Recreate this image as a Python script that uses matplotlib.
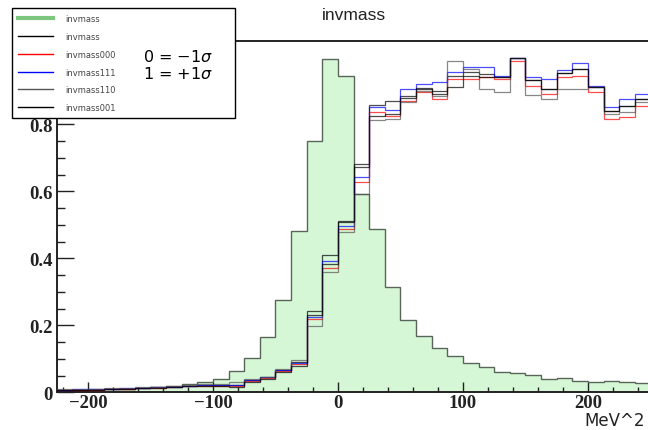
import numpy as np
import matplotlib
matplotlib.use("Agg")
import matplotlib.pyplot as plt
from matplotlib.lines import Line2D
from matplotlib.ticker import MultipleLocator

# binning : 38 bins de 12.5 MeV^2 entre -225 et 250
x_lo, bin_w, n_bins = -225.0, 12.5, 38
edges = x_lo + bin_w * np.arange(n_bins + 1)

# histo de référence (vert)
h_ref = [0.005, 0.006, 0.007, 0.009, 0.011, 0.013, 0.016, 0.020, 0.024, 0.030,
         0.040, 0.064, 0.101, 0.164, 0.276, 0.481, 0.751, 0.995, 0.945, 0.592,
         0.487, 0.313, 0.217, 0.169, 0.132, 0.107, 0.087, 0.075, 0.062, 0.057,
         0.052, 0.040, 0.044, 0.035, 0.030, 0.033, 0.030, 0.028]

# variations
h_nom = [0.008, 0.008, 0.009, 0.010, 0.011, 0.013, 0.015, 0.017, 0.019, 0.021,
         0.022, 0.022, 0.036, 0.045, 0.066, 0.090, 0.243, 0.410, 0.512, 0.681,
         0.858, 0.870, 0.886, 0.905, 0.900, 0.945, 0.955, 0.951, 0.940, 0.997,
         0.931, 0.906, 0.954, 0.966, 0.911, 0.841, 0.856, 0.876]
h_000 = [0.007, 0.008, 0.008, 0.010, 0.011, 0.012, 0.014, 0.016, 0.018, 0.020,
         0.020, 0.020, 0.034, 0.043, 0.064, 0.085, 0.219, 0.370, 0.487, 0.627,
         0.836, 0.824, 0.870, 0.896, 0.875, 0.935, 0.935, 0.941, 0.935, 0.990,
         0.916, 0.891, 0.941, 0.945, 0.896, 0.816, 0.821, 0.856]
h_111 = [0.008, 0.009, 0.009, 0.011, 0.012, 0.013, 0.015, 0.017, 0.019, 0.022,
         0.021, 0.022, 0.037, 0.046, 0.068, 0.088, 0.226, 0.393, 0.497, 0.642,
         0.851, 0.844, 0.906, 0.920, 0.925, 0.955, 0.970, 0.970, 0.945, 0.997,
         0.941, 0.935, 0.963, 0.984, 0.916, 0.851, 0.876, 0.891]
h_110 = [0.009, 0.010, 0.010, 0.012, 0.013, 0.015, 0.017, 0.019, 0.022, 0.024,
         0.025, 0.030, 0.040, 0.047, 0.070, 0.097, 0.199, 0.358, 0.479, 0.592,
         0.813, 0.816, 0.867, 0.900, 0.885, 0.988, 0.965, 0.906, 0.898, 0.997,
         0.888, 0.876, 0.906, 0.906, 0.911, 0.831, 0.836, 0.866]
h_001 = [0.007, 0.007, 0.008, 0.009, 0.010, 0.012, 0.014, 0.016, 0.018, 0.020,
         0.018, 0.016, 0.030, 0.040, 0.062, 0.079, 0.230, 0.383, 0.507, 0.672,
         0.826, 0.831, 0.880, 0.910, 0.890, 0.913, 0.945, 0.941, 0.940, 0.997,
         0.931, 0.906, 0.954, 0.966, 0.911, 0.841, 0.856, 0.876]

variations = [(h_nom, "black"), (h_000, "red"), (h_111, "blue"),
              (h_110, "#555555"), (h_001, "black")]
leg_labels = ["invmass", "invmass", "invmass000", "invmass111", "invmass110", "invmass001"]

fig = plt.figure(figsize=(6.48, 4.31), dpi=100)
ax = fig.add_axes([56.7/648, 37.7/431, 593.75/648, 351/431])

ax.stairs(h_ref, edges, fill=True, color="#d6f7d6", zorder=1)
ax.stairs(h_ref, edges, color="#58665a", lw=1.0, zorder=2)
for vals, col in variations:
    ax.stairs(vals, edges, color=col, lw=0.9, alpha=0.7, zorder=3)

ax.set_xlim(edges[0], edges[-1])
ax.set_ylim(0, 1.048)

serif = dict(fontfamily="Liberation Serif", fontweight="bold", fontsize=13.5)
ax.set_xticks([-200, -100, 0, 100, 200],
              ["\u2212200", "\u2212100", "0", "100", "200"], **serif)
ax.set_yticks([0, 0.2, 0.4, 0.6, 0.8, 1.0],
              ["0", "0.2", "0.4", "0.6", "0.8", "1"], **serif)
ax.xaxis.set_minor_locator(MultipleLocator(20))
ax.yaxis.set_minor_locator(MultipleLocator(0.05))
ax.tick_params(which="both", direction="in", top=False, right=False,
               colors="#222222", width=1.0)
ax.tick_params(axis="x", which="major", length=7, pad=1.5)
ax.tick_params(axis="x", which="minor", length=3.5)
ax.tick_params(axis="y", which="major", length=12, pad=3)
ax.tick_params(axis="y", which="minor", length=6)
for s in ax.spines.values():
    s.set_linewidth(1.4)
    s.set_color("#222222")

# légende
handles = [Line2D([], [], color="#5cb85c", lw=3, alpha=0.8)]
handles += [Line2D([], [], color=c, lw=1) for _, c in variations]
leg = fig.legend(handles, leg_labels, loc="upper left",
                 bbox_to_anchor=(12/648, 1 - 115/431, 223/648, 106/431),
                 mode="expand", borderaxespad=0, fontsize=6,
                 handlelength=4.2, handletextpad=1.4, borderpad=0.75,
                 labelspacing=1.05, fancybox=False, framealpha=1,
                 edgecolor="black", labelcolor="#444444")
leg.get_frame().set_linewidth(1.0)

fig.text(143/648, 1 - 57.5/431, "0 = $-1\\sigma$", va="center", fontsize=11.5, zorder=10)
fig.text(143/648, 1 - 74/431, "1 = $+1\\sigma$", va="center", fontsize=11.5, zorder=10)

fig.text(353.6/648, 1 - 15/431, "invmass", ha="center", va="center",
         fontsize=12.5, fontfamily="Liberation Sans", color="#222222")
fig.text(645/648, 1 - 421/431, "MeV^2", ha="right", va="center", fontsize=12,
         color="#222222")

fig.savefig("out.png", dpi=100)
